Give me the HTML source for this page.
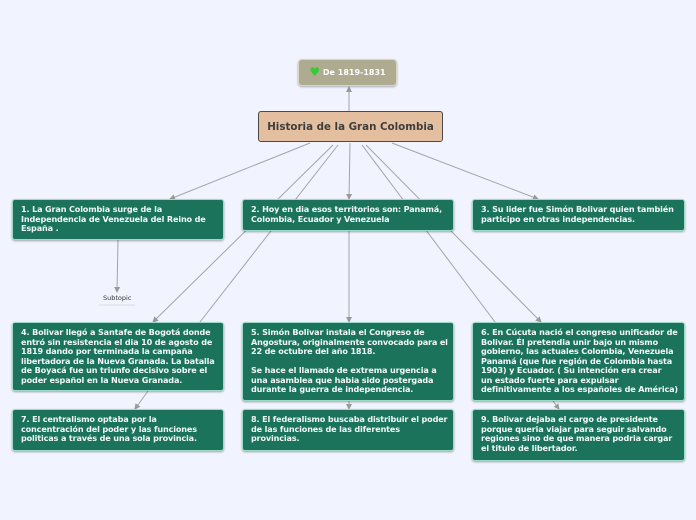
<!DOCTYPE html>
<html><head><meta charset="utf-8"><style>
body{margin:0;width:696px;height:520px;background:#f1f4fe;position:relative;overflow:hidden;font-family:"DejaVu Sans",sans-serif}
svg{position:absolute;left:0;top:0}
.b{position:absolute;background:#1b735c;border:1px solid #9fd9c8;border-radius:3px;box-shadow:0 1px 2px rgba(0,0,0,.35);color:#f2f8f5;font-weight:bold;font-size:8.1px;line-height:9.5px;padding:5px 8px 0 8px;box-sizing:border-box;letter-spacing:-0.15px;white-space:nowrap}
</style></head><body>
<svg width="696" height="520">
<defs><marker id="a" markerWidth="6" markerHeight="6" refX="5" refY="3" orient="auto"><path d="M0,0L6,3L0,6z" fill="#999"/></marker></defs>
<g stroke="#a0a4aa" stroke-width="1" fill="none">
<line x1="349" y1="111" x2="349" y2="87" marker-end="url(#a)"/>
<line x1="310" y1="143" x2="170" y2="199" marker-end="url(#a)"/>
<line x1="350" y1="143" x2="349" y2="199" marker-end="url(#a)"/>
<line x1="392" y1="143" x2="538" y2="199" marker-end="url(#a)"/>
<line x1="333" y1="145" x2="153" y2="322" marker-end="url(#a)"/>
<line x1="338" y1="145" x2="200" y2="322"/>
<line x1="148" y1="391" x2="135" y2="409" marker-end="url(#a)"/>
<line x1="349" y1="231" x2="349" y2="322" marker-end="url(#a)"/>
<line x1="349" y1="401" x2="349" y2="409" marker-end="url(#a)"/>
<line x1="366" y1="145" x2="541" y2="322" marker-end="url(#a)"/>
<line x1="362" y1="145" x2="495" y2="322"/>
<line x1="553" y1="401" x2="559" y2="409" marker-end="url(#a)"/>
<line x1="118" y1="240" x2="117" y2="292" marker-end="url(#a)"/>
<line x1="99" y1="305" x2="135" y2="305" stroke="#ddd"/>
</g>
</svg>
<div style="position:absolute;left:298px;top:59px;width:99px;height:27px;background:#aeab90;border:1px solid #d8d6c6;border-radius:4px;box-sizing:border-box;box-shadow:0 1px 2px rgba(0,0,0,.3);color:#fff;font-weight:bold;font-size:8px;line-height:25px;text-align:center"><span style="color:#3c3;font-size:12px;vertical-align:-1px">&#9829;</span> De 1819-1831</div>
<div style="position:absolute;left:258px;top:111px;width:185px;height:31px;background:#e4bf9f;border:1.5px solid #4a4a4a;border-radius:3px;box-sizing:border-box;color:#3e3e3e;font-weight:bold;font-size:10.3px;line-height:30px;text-align:center">Historia de la Gran Colombia</div>
<div style="position:absolute;left:103px;top:294px;font-size:6.5px;color:#333">Subtopic</div>
<div class="b" style="left:12px;top:199px;width:212px;height:41px">1. La Gran Colombia surge de la<br>Independencia de Venezuela del Reino de<br>España .</div>
<div class="b" style="left:242px;top:199px;width:212px;height:32px">2. Hoy en dia esos territorios son: Panamá,<br>Colombia, Ecuador y Venezuela</div>
<div class="b" style="left:472px;top:199px;width:213px;height:32px">3. Su lider fue Simón Bolivar quien también<br>participo en otras independencias.</div>
<div class="b" style="left:12px;top:322px;width:212px;height:69px">4. Bolivar llegó a Santafe de Bogotá donde<br>entró sin resistencia el dia 10 de agosto de<br>1819 dando por terminada la campaña<br>libertadora de la Nueva Granada. La batalla<br>de Boyacá fue un triunfo decisivo sobre el<br>poder español en la Nueva Granada.</div>
<div class="b" style="left:242px;top:322px;width:212px;height:79px">5. Simón Bolivar instala el Congreso de<br>Angostura, originalmente convocado para el<br>22 de octubre del año 1818.<br><br>Se hace el llamado de extrema urgencia a<br>una asamblea que habia sido postergada<br>durante la guerra de independencia.</div>
<div class="b" style="left:472px;top:322px;width:213px;height:79px">6. En Cúcuta nació el congreso unificador de<br>Bolivar. Él pretendia unir bajo un mismo<br>gobierno, las actuales Colombia, Venezuela<br>Panamá (que fue región de Colombia hasta<br>1903) y Ecuador. ( Su intención era crear<br>un estado fuerte para expulsar<br>definitivamente a los españoles de América)</div>
<div class="b" style="left:12px;top:409px;width:212px;height:42px">7. El centralismo optaba por la<br>concentración del poder y las funciones<br>politicas a través de una sola provincia.</div>
<div class="b" style="left:242px;top:409px;width:212px;height:42px">8. El federalismo buscaba distribuir el poder<br>de las funciones de las diferentes<br>provincias.</div>
<div class="b" style="left:472px;top:409px;width:213px;height:52px">9. Bolivar dejaba el cargo de presidente<br>porque queria viajar para seguir salvando<br>regiones sino de que manera podria cargar<br>el titulo de libertador.</div>
</body></html>
